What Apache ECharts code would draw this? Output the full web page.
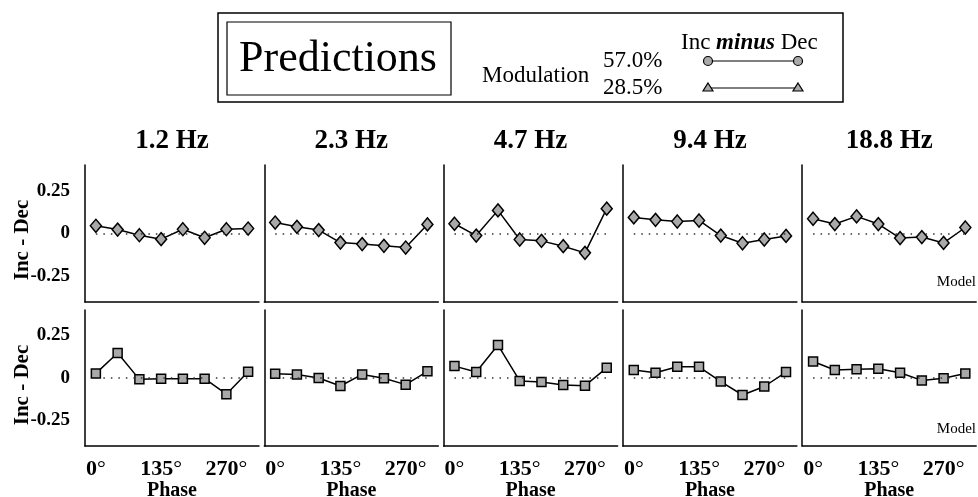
<!DOCTYPE html>
<html>
<head>
<meta charset="utf-8">
<script src="https://cdn.jsdelivr.net/npm/echarts@6/dist/echarts.min.js"></script>
<style>
  html, body { margin: 0; padding: 0; background: #fff; }
  #main { width: 978px; height: 497px; }
</style>
</head>
<body>
<div id="main"></div>
<script>
// phases (deg) and frequency panels
var phases = [0, 45, 90, 135, 180, 225, 270, 315];
var freqLabels = ['1.2 Hz', '2.3 Hz', '4.7 Hz', '9.4 Hz', '18.8 Hz'];
var phaseTicks = [0, 135, 270];
var yTicks = [-0.25, 0, 0.25];

// top row (diamonds), Inc - Dec
var topRow = [
  [0.045, 0.023, -0.010, -0.033, 0.025, -0.025, 0.025, 0.029],
  [0.064, 0.039, 0.020, -0.053, -0.062, -0.072, -0.082, 0.053],
  [0.057, -0.012, 0.135, -0.035, -0.043, -0.074, -0.113, 0.145],
  [0.094, 0.080, 0.070, 0.076, -0.012, -0.057, -0.035, -0.014],
  [0.086, 0.055, 0.100, 0.055, -0.027, -0.021, -0.055, 0.035]
];
// bottom row (squares)
var bottomRow = [
  [0.027, 0.147, -0.008, -0.004, -0.004, -0.004, -0.095, 0.037],
  [0.025, 0.021, 0.000, -0.047, 0.021, -0.002, -0.039, 0.039],
  [0.070, 0.035, 0.194, -0.017, -0.023, -0.041, -0.045, 0.060],
  [0.047, 0.031, 0.066, 0.066, -0.021, -0.100, -0.050, 0.035],
  [0.097, 0.047, 0.052, 0.054, 0.031, -0.014, -0.002, 0.027]
];

var serif = '"Liberation Serif", "DejaVu Serif", serif';
var chart = echarts.init(document.getElementById('main'));

var grids = [], xAxes = [], yAxes = [], series = [], graphics = [];
var lefts = [85, 264.3, 443.6, 622.9, 802.2];
var panelW = 174;
var rows = [
  { data: topRow, top: 165, height: 137, symbol: 'diamond', size: [11, 13], labelY: 240 },
  { data: bottomRow, top: 310, height: 136, symbol: 'rect', size: 9, labelY: 385 }
];

rows.forEach(function (row, r) {
  row.data.forEach(function (vals, c) {
    var idx = grids.length;
    grids.push({ left: lefts[c], top: row.top, width: panelW, height: row.height, outerBoundsMode: 'none', containLabel: false });
    xAxes.push({
      gridIndex: idx, type: 'value', min: -22.5, max: 337.5,
      splitLine: { show: false },
      axisLine: { onZero: false, lineStyle: { color: '#000', width: 1.5 } },
      axisTick: { show: false },
      axisLabel: {
        show: r === 1,
        customValues: phaseTicks,
        margin: 12,
        formatter: function (v) { return '{n|' + v + '}{s|°}'; },
        rich: {
          n: { fontFamily: serif, fontWeight: 'bold', fontSize: 22, color: '#000' },
          s: { fontFamily: serif, fontSize: 22, color: '#000' }
        }
      },
      name: r === 1 ? 'Phase' : '',
      nameLocation: 'middle', nameGap: 32,
      nameTextStyle: { fontFamily: serif, fontWeight: 'bold', fontSize: 20, color: '#000' }
    });
    yAxes.push({
      gridIndex: idx, type: 'value', min: -0.4, max: 0.4,
      splitLine: { show: false },
      axisLine: { show: true, onZero: false, lineStyle: { color: '#000', width: 1.5 } },
      axisTick: { show: false },
      axisLabel: {
        show: c === 0,
        customValues: yTicks,
        margin: 15,
        fontFamily: serif, fontWeight: 'bold', fontSize: 19, color: '#000',
        formatter: function (v) { return v === 0 ? '0' : v.toFixed(2); }
      }
    });
    series.push({
      type: 'line',
      xAxisIndex: idx, yAxisIndex: idx,
      data: phases.map(function (p, j) { return [p, vals[j]]; }),
      symbol: row.symbol, symbolSize: row.size,
      itemStyle: { color: '#a9a9a9', borderColor: '#000', borderWidth: 1.5 },
      lineStyle: { color: '#000', width: 1.5 },
      z: 3,
      markLine: {
        silent: true, symbol: 'none', animation: false,
        label: { show: false },
        lineStyle: { color: '#333', width: 1.5, type: [1.5, 6] },
        data: [[{ coord: [phases[0], 0] }, { coord: [phases[phases.length - 1], 0] }]]
      }
    });
  });
  // y axis title for the row
  graphics.push({
    type: 'text', x: 23, y: row.labelY, rotation: Math.PI / 2,
    style: { text: 'Inc - Dec', fontFamily: serif, fontWeight: 'bold', fontSize: 21, fill: '#000', align: 'center', verticalAlign: 'middle' }
  });
});

// panel titles
freqLabels.forEach(function (t, c) {
  graphics.push({
    type: 'text',
    x: lefts[c] + panelW / 2, y: 141,
    style: { text: t, fontFamily: serif, fontWeight: 'bold', fontSize: 27, fill: '#000', align: 'center', verticalAlign: 'middle' }
  });
});
// Model labels
[290, 437].forEach(function (yy) {
  graphics.push({
    type: 'text', x: 976, y: yy,
    style: { text: 'Model', fontFamily: serif, fontSize: 15, fill: '#000', align: 'right', verticalAlign: 'bottom' }
  });
});

// legend box
graphics.push(
  { type: 'rect', shape: { x: 218, y: 13, width: 625, height: 89 }, style: { fill: '#fff', stroke: '#000', lineWidth: 1.5 }, z: 1 },
  { type: 'rect', shape: { x: 227, y: 22, width: 224, height: 73 }, style: { fill: 'none', stroke: '#000', lineWidth: 1.2 }, z: 2 },
  { type: 'text', x: 338, y: 59, z: 2, style: { text: 'Predictions', fontFamily: serif, fontSize: 44, fill: '#000', align: 'center', verticalAlign: 'middle' } },
  { type: 'text', x: 482, y: 76, z: 2, style: { text: 'Modulation', fontFamily: serif, fontSize: 23, fill: '#000', align: 'left', verticalAlign: 'middle' } },
  { type: 'text', x: 603, y: 61, z: 2, style: { text: '57.0%', fontFamily: serif, fontSize: 23, fill: '#000', align: 'left', verticalAlign: 'middle' } },
  { type: 'text', x: 603, y: 88, z: 2, style: { text: '28.5%', fontFamily: serif, fontSize: 23, fill: '#000', align: 'left', verticalAlign: 'middle' } },
  { type: 'text', x: 681, y: 43, z: 2, style: {
      text: '{a|Inc }{b|minus}{a| Dec}', align: 'left', verticalAlign: 'middle',
      rich: {
        a: { fontFamily: serif, fontSize: 23, color: '#000' },
        b: { fontFamily: serif, fontSize: 23, color: '#000', fontWeight: 'bold', fontStyle: 'italic' }
      }
  } },
  { type: 'line', z: 2, shape: { x1: 708, y1: 61, x2: 798, y2: 61 }, style: { stroke: '#000', lineWidth: 1.2 } },
  { type: 'circle', z: 3, shape: { cx: 708, cy: 61, r: 4.5 }, style: { fill: '#a9a9a9', stroke: '#000', lineWidth: 1.2 } },
  { type: 'circle', z: 3, shape: { cx: 798, cy: 61, r: 4.5 }, style: { fill: '#a9a9a9', stroke: '#000', lineWidth: 1.2 } },
  { type: 'line', z: 2, shape: { x1: 708, y1: 88, x2: 798, y2: 88 }, style: { stroke: '#000', lineWidth: 1.2 } },
  { type: 'polygon', z: 3, shape: { points: [[708, 83], [713, 91], [703, 91]] }, style: { fill: '#a9a9a9', stroke: '#000', lineWidth: 1.2 } },
  { type: 'polygon', z: 3, shape: { points: [[798, 83], [803, 91], [793, 91]] }, style: { fill: '#a9a9a9', stroke: '#000', lineWidth: 1.2 } }
);

chart.setOption({
  animation: false,
  backgroundColor: '#fff',
  grid: grids,
  xAxis: xAxes,
  yAxis: yAxes,
  series: series,
  graphic: graphics
});
</script>
</body>
</html>
